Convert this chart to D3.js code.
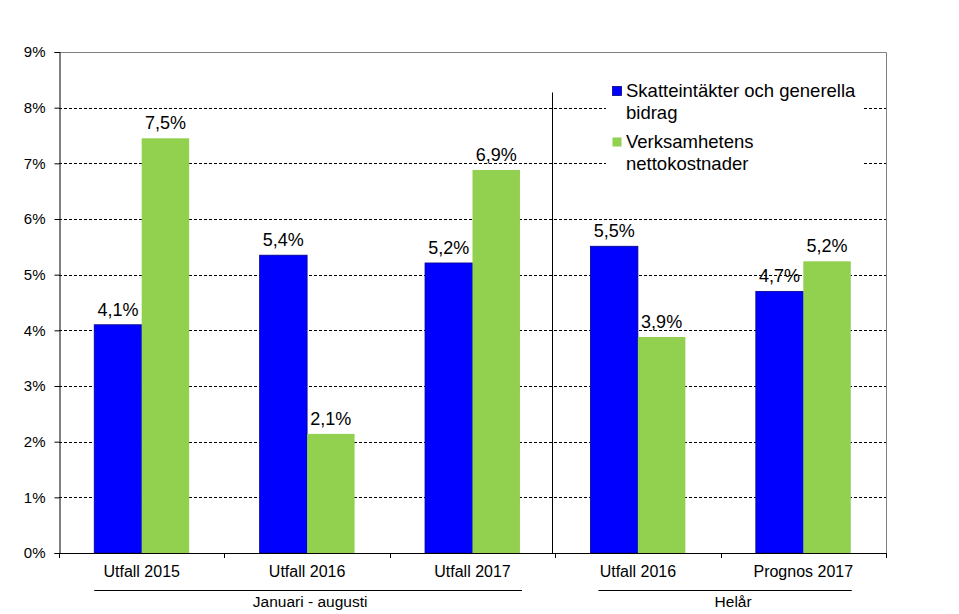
<!DOCTYPE html>
<html>
<head>
<meta charset="utf-8">
<script src="https://cdn.jsdelivr.net/npm/d3@7"></script>
<style>
  html, body { margin: 0; padding: 0; background: #fff; }
  svg { display: block; font-family: Arial, "Liberation Sans", sans-serif; }
</style>
</head>
<body>
<svg id="chart" width="959" height="614"></svg>
<script>
// ---- Data ----
const categories = ["Utfall 2015", "Utfall 2016", "Utfall 2017", "Utfall 2016", "Prognos 2017"];
const seriesNames = ["Skatteintäkter och generella bidrag", "Verksamhetens nettokostnader"];
const skatteintakter = [4.1, 5.35, 5.21, 5.51, 4.70];
const nettokostnader = [7.45, 2.14, 6.88, 3.88, 5.24];
const valueLabels1 = ["4,1%", "5,4%", "5,2%", "5,5%", "4,7%"];
const valueLabels2 = ["7,5%", "2,1%", "6,9%", "3,9%", "5,2%"];
const yTicks = [0, 1, 2, 3, 4, 5, 6, 7, 8, 9];
const groups = [
  { label: "Januari - augusti", from: 0, to: 2 },
  { label: "Helår", from: 3, to: 4 }
];
const colors = ["#0000FF", "#92D050"];

(function () {
// ---- Layout ----
const svg = d3.select("#chart");
const pLeft = 59, pRight = 886, pTop = 52, pBottom = 553;

const x = d3.scaleBand().domain(d3.range(categories.length)).range([pLeft, pRight]).padding(0);
const bw = x.bandwidth();
const x1 = d3.scaleBand().domain([0, 1]).range([bw * 0.213, bw * 0.787]).padding(0);
const y = d3.scaleLinear().domain([0, 9]).range([pBottom, pTop]);

// gridlines (dashed)
svg.append("g").selectAll("line")
  .data(yTicks.filter(d => d > 0 && d < 9))
  .join("line")
  .attr("x1", pLeft).attr("x2", pRight)
  .attr("y1", d => Math.round(y(d)) + 0.5).attr("y2", d => Math.round(y(d)) + 0.5)
  .attr("stroke", "#000").attr("stroke-width", 1)
  .attr("stroke-dasharray", "3,2");

// plot border top & right (grey)
svg.append("line").attr("x1", pLeft).attr("x2", pRight + 0.5)
  .attr("y1", Math.round(y(9)) + 0.5).attr("y2", Math.round(y(9)) + 0.5)
  .attr("stroke", "#808080");
svg.append("line").attr("x1", pRight + 0.5).attr("x2", pRight + 0.5)
  .attr("y1", Math.round(y(9)) + 0.5).attr("y2", pBottom)
  .attr("stroke", "#808080");

// bars
const data = categories.map((c, i) => ({ i, vals: [skatteintakter[i], nettokostnader[i]], labels: [valueLabels1[i], valueLabels2[i]] }));
const g = svg.append("g").selectAll("g").data(data).join("g")
  .attr("transform", d => `translate(${x(d.i)},0)`);

g.selectAll("rect").data(d => d.vals.map((v, k) => ({ v, k })))
  .join("rect")
  .attr("x", d => x1(d.k))
  .attr("width", x1.bandwidth())
  .attr("y", d => y(d.v))
  .attr("height", d => y(0) - y(d.v))
  .attr("fill", d => colors[d.k])
  .attr("stroke", d => d.k === 0 ? "#00008a" : "none")
  .attr("stroke-width", 0.8);

g.selectAll("text.val").data(d => d.vals.map((v, k) => ({ v, k, label: d.labels[k] })))
  .join("text")
  .attr("class", "val")
  .attr("x", d => x1(d.k) + x1.bandwidth() / 2)
  .attr("y", d => y(d.v) - 9)
  .attr("text-anchor", "middle")
  .attr("font-size", "18px")
  .attr("fill", "#000")
  .text(d => d.label);

// y axis
const yAxis = d3.axisLeft(y).tickValues(yTicks).tickFormat(d => d + "%").tickSize(5).tickPadding(9);
const ya = svg.append("g").attr("transform", `translate(${pLeft + 0.5},0)`).call(yAxis);
ya.select(".domain").attr("stroke", "#000");
ya.selectAll(".tick line").attr("stroke", "#000");
ya.selectAll("text").attr("font-size", "15px").attr("font-family", "Arial, 'Liberation Sans', sans-serif").attr("fill", "#000");

// x axis
svg.append("line").attr("x1", pLeft).attr("x2", pRight + 1)
  .attr("y1", pBottom + 0.5).attr("y2", pBottom + 0.5).attr("stroke", "#000");
svg.append("g").selectAll("line").data(d3.range(categories.length + 1))
  .join("line")
  .attr("x1", d => Math.round(pLeft + d * bw) + 0.5)
  .attr("x2", d => Math.round(pLeft + d * bw) + 0.5)
  .attr("y1", pBottom).attr("y2", pBottom + 5)
  .attr("stroke", "#000");

svg.append("g").selectAll("text").data(categories)
  .join("text")
  .attr("x", (d, i) => x(i) + bw / 2)
  .attr("y", 577)
  .attr("text-anchor", "middle")
  .attr("font-size", "16px")
  .attr("fill", "#000")
  .text(d => d);

// separator between groups
svg.append("line")
  .attr("x1", Math.round(x(3)) - 2.5).attr("x2", Math.round(x(3)) - 2.5)
  .attr("y1", 92.5).attr("y2", pBottom)
  .attr("stroke", "#000");

// group lines and labels
groups.forEach((gr, gi) => {
  const x0 = x(gr.from) + x1(0) + (gi === 1 ? 8 : 0);
  const xe = x(gr.to) + x1(1) + x1.bandwidth() + (gi === 1 ? 1 : 2);
  svg.append("line").attr("x1", x0).attr("x2", xe)
    .attr("y1", 590.5).attr("y2", 590.5).attr("stroke", "#000");
  svg.append("text").attr("x", gi === 1 ? (x0 + xe) / 2 + 8 : (x0 + xe) / 2 + 2).attr("y", 607)
    .attr("text-anchor", "middle").attr("font-size", "15.5px").attr("fill", "#000")
    .text(gr.label);
});

// legend
const lg = svg.append("g");
lg.append("rect").attr("x", 606).attr("y", 74).attr("width", 256).attr("height", 104).attr("fill", "#fff");
const legendLines = [["Skatteintäkter och generella", "bidrag"], ["Verksamhetens", "nettokostnader"]];
const legendY = [97, 148];
legendLines.forEach((lines, k) => {
  lg.append("rect").attr("x", 612.5).attr("y", legendY[k] - 10.5).attr("width", 9).attr("height", 9)
    .attr("fill", colors[k]).attr("stroke", k === 0 ? "#00008a" : "none").attr("stroke-width", 0.8);
  lines.forEach((t, j) => {
    lg.append("text").attr("x", 626).attr("y", legendY[k] + j * 21.5)
      .attr("font-size", "18.5px").attr("fill", "#000").text(t);
  });
});
})();
</script>
</body>
</html>
